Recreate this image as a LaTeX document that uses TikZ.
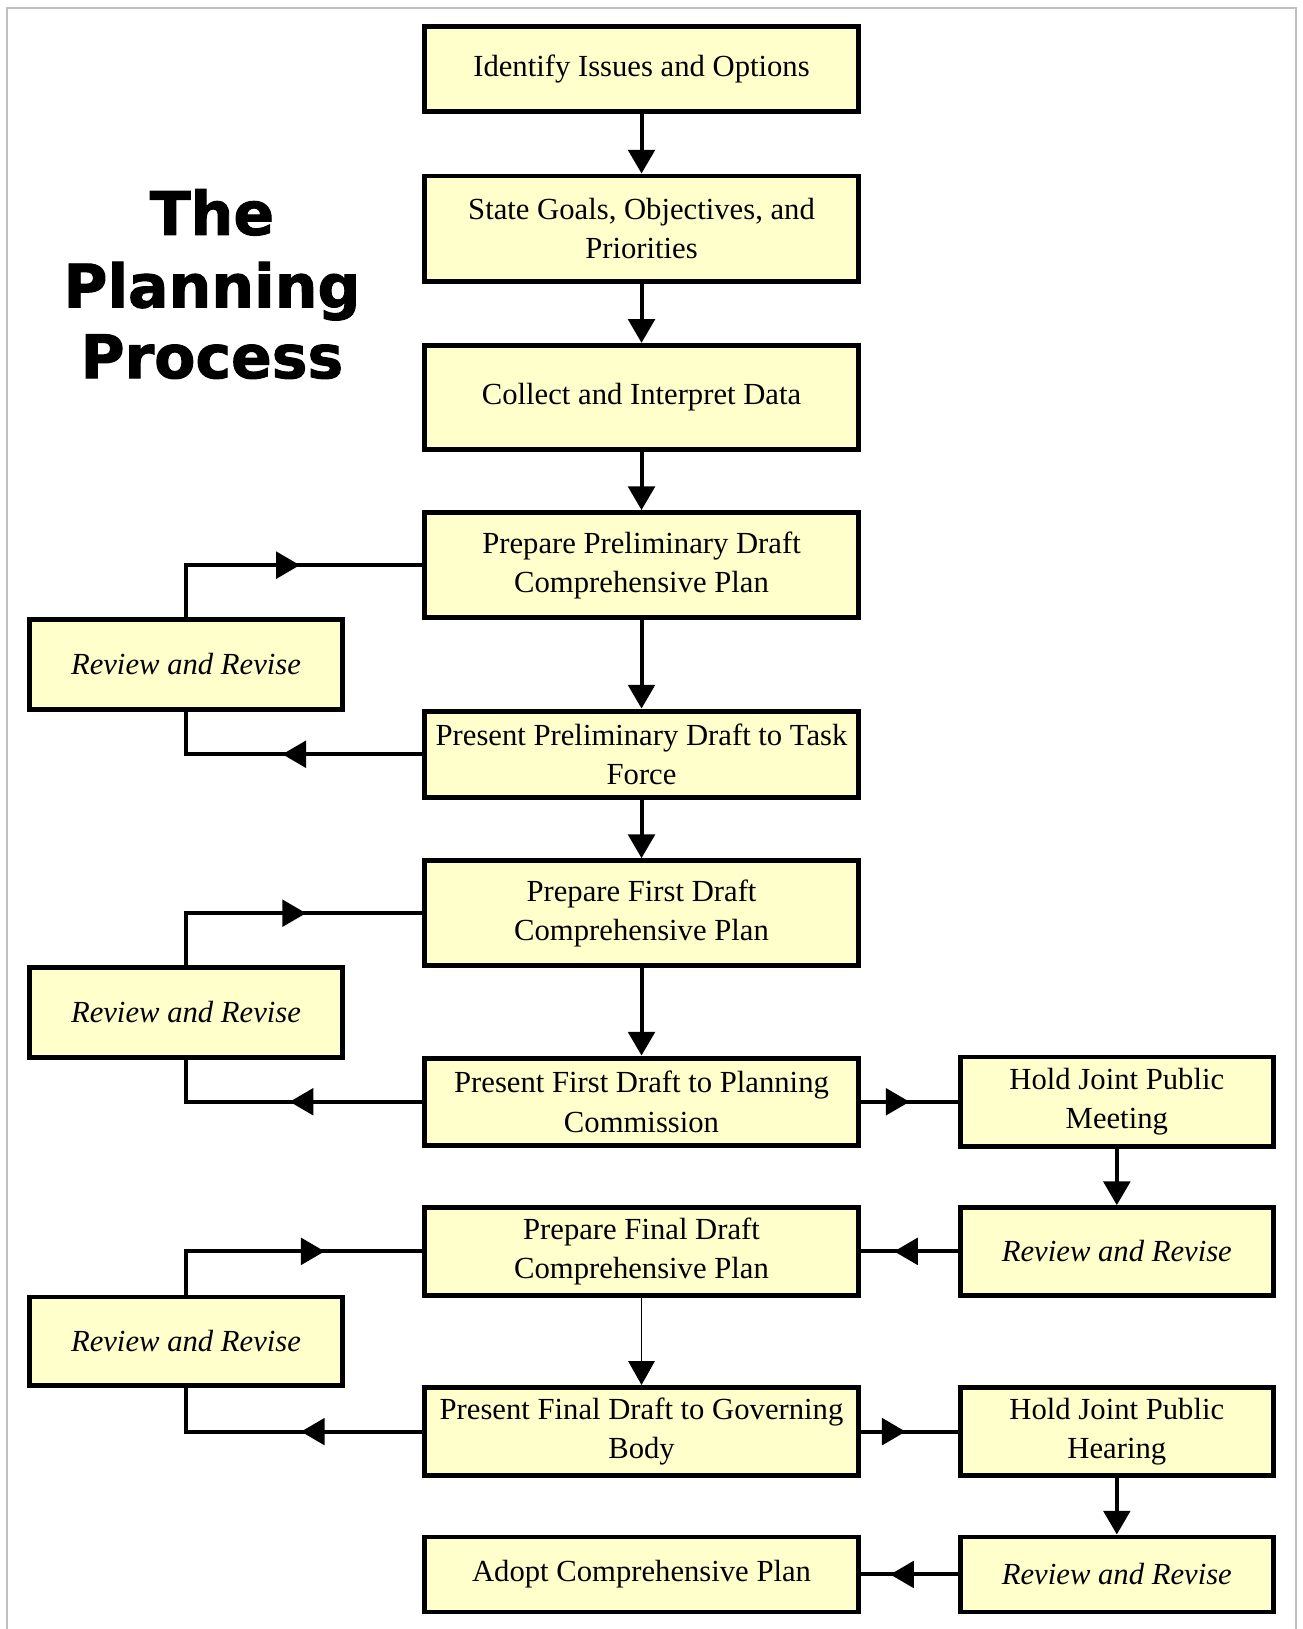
\documentclass[tikz,border=0pt]{standalone}
\usepackage{fontspec}
\setmainfont{Liberation Serif}
\newfontfamily\headfont{DejaVu Sans Bold}[FakeBold=1.6]
\usetikzlibrary{arrows.meta,decorations.markings}

\definecolor{boxfill}{HTML}{FFFFCC}
\definecolor{framegray}{HTML}{C0C0C0}

\tikzset{
  box/.style={draw=black, line width=2.7pt, fill=boxfill, inner sep=0pt,
    align=center, font=\fontsize{16.8pt}{21.5pt}\selectfont},
  mainbox/.style={box, minimum width=8.36cm},
  sidebox/.style={box, minimum width=6.02cm},
  revbox/.style={sidebox, font=\fontsize{16.8pt}{21.5pt}\selectfont\itshape},
  headline/.style={font=\headfont\fontsize{32.9pt}{39pt}\selectfont,
    inner sep=0pt, anchor=base},
  link/.style={line width=2.2pt},
  tip/.tip={Triangle[length=13pt,width=14.5pt]},
  flow/.style={link, -tip},
  thinflow/.style={line width=0.6pt, -tip},
  midarrow/.style={link, postaction={decorate},
    decoration={markings, mark=at position #1 with {\arrow{tip}}}},
}

\begin{document}
\begin{tikzpicture}[x=0.02cm, y=-0.02cm]
  \useasboundingbox (0,0) rectangle (1254,1568);

  % outer frame, open at the bottom
  \draw[framegray, line width=1.1pt] (6.5,1568) -- (6.5,7.3) -- (1247,7.3) -- (1247,1568);

  % heading
  \node[headline] (h1) at (204,226) {The};
  \node[headline] (h2) at (204,296) {Planning};
  \node[headline] (h3) at (204,364) {Process};

  % main column
  \node[mainbox, minimum height=1.644cm] (p1) at (617.5,66.5) {Identify Issues and Options};
  \node[mainbox, minimum height=2.024cm] (p2) at (617.5,220) {State Goals, Objectives, and\\Priorities};
  \node[mainbox, minimum height=2.004cm] (p3) at (617.5,382.5) {Collect and Interpret Data};
  \node[mainbox, minimum height=2.024cm] (p4) at (617.5,544) {Prepare Preliminary Draft\\Comprehensive Plan};
  \node[mainbox, minimum height=1.664cm] (p5) at (617.5,726) {Present Preliminary Draft to Task\\Force};
  \node[mainbox, minimum height=2.024cm] (p6) at (617.5,879) {Prepare First Draft\\Comprehensive Plan};
  \node[mainbox, minimum height=1.684cm] (p7) at (617.5,1060.5) {Present First Draft to Planning\\Commission};
  \node[mainbox, minimum height=1.684cm] (p8) at (617.5,1204.5) {Prepare Final Draft\\Comprehensive Plan};
  \node[mainbox, minimum height=1.704cm] (p9) at (617.5,1378) {Present Final Draft to Governing\\Body};
  \node[mainbox, minimum height=1.444cm] (p10) at (617.5,1515.5) {Adopt Comprehensive Plan};

  % left review loops
  \node[revbox, minimum height=1.724cm] (r1) at (179,639.5) {Review and Revise};
  \node[revbox, minimum height=1.724cm] (r2) at (179,974.5) {Review and Revise};
  \node[revbox, minimum height=1.704cm] (r3) at (179,1291) {Review and Revise};

  % right column
  \node[sidebox, minimum height=1.724cm] (meet) at (1075,1060.5) {Hold Joint Public\\Meeting};
  \node[revbox, minimum height=1.684cm] (rr1) at (1075,1204.5) {Review and Revise};
  \node[sidebox, minimum height=1.704cm] (hear) at (1075,1378) {Hold Joint Public\\Hearing};
  \node[revbox, minimum height=1.444cm] (rr2) at (1075,1515.5) {Review and Revise};

  % main sequence
  \draw[flow] (p1) -- (p2);
  \draw[flow] (p2) -- (p3);
  \draw[flow] (p3) -- (p4);
  \draw[flow] (p4) -- (p5);
  \draw[flow] (p5) -- (p6);
  \draw[flow] (p6) -- (p7);
  \draw[thinflow] (p8) -- (p9);

  % review loops on the left
  \draw[midarrow=-66.9pt] (r1.north) |- (p4.west);
  \draw[midarrow=76.5pt] (p5.west) -| (r1.south);
  \draw[midarrow=-63.5pt] (r2.north) |- (p6.west);
  \draw[midarrow=72.5pt] (p7.west) -| (r2.south);
  \draw[midarrow=-53.3pt] (r3.north) |- (p8.west);
  \draw[midarrow=66.3pt] (p9.west) -| (r3.south);

  % public meeting and hearing branch
  \draw[midarrow=0.5] (p7.east) -- (meet.west);
  \draw[flow] (meet) -- (rr1);
  \draw[midarrow=0.66] (rr1.west) -- (p8.east);
  \draw[midarrow=0.46] (p9.east) -- (hear.west);
  \draw[flow] (hear) -- (rr2);
  \draw[midarrow=0.7] (rr2.west) -- (p10.east);
\end{tikzpicture}
\end{document}
